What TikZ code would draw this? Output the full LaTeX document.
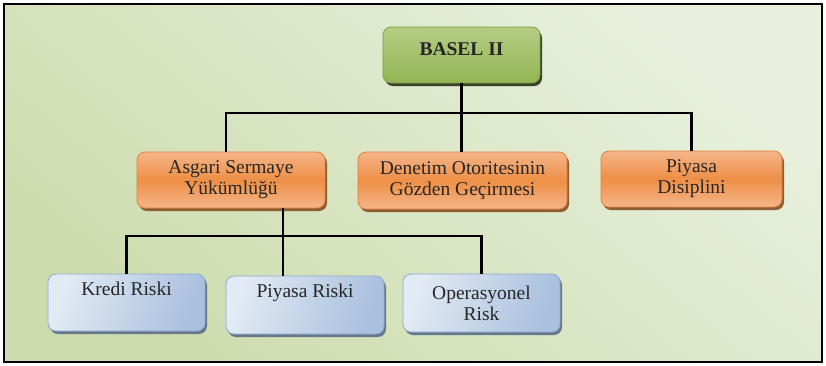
\documentclass[tikz,border=0pt]{standalone}
\usepackage{fontspec}
\setmainfont{Liberation Serif}
\usetikzlibrary{shadows}

\definecolor{bgA}{HTML}{E8F0DD}
\definecolor{bgB}{HTML}{CDDCAE}
\definecolor{yesilA}{HTML}{B4CD85}
\definecolor{yesilB}{HTML}{93B553}
\definecolor{yesilC}{HTML}{7E9C45}
\definecolor{turA}{HTML}{F5B589}
\definecolor{turB}{HTML}{EE8F45}
\definecolor{turC}{HTML}{E0823A}
\definecolor{maviA}{HTML}{E2EAF4}
\definecolor{maviB}{HTML}{A9C0DE}
\definecolor{maviC}{HTML}{8EA9CF}

\begin{document}
\begin{tikzpicture}[x=1pt, y=-1pt,
	kutu/.style = {rounded corners=8pt, align=center, inner sep=0pt,
		font=\fontsize{19.5}{21}\selectfont, text=black!85, line width=0.8pt},
	yesil/.style = {kutu, draw=yesilC, top color=yesilA, bottom color=yesilB,
		font=\fontsize{19.5}{21}\selectfont\bfseries,
		drop shadow={fill=black!70!yesilC, opacity=0.9, shadow xshift=2pt, shadow yshift=-3pt}},
	turuncu/.style = {kutu, draw=turC, top color=turA, bottom color=turA, middle color=turB,
		drop shadow={fill=black!40!turC, opacity=0.9, shadow xshift=2pt, shadow yshift=-3pt}},
	mavi/.style = {kutu, draw=maviC, left color=maviA, right color=maviB, shading angle=70,
		drop shadow={fill=black!35!maviC, opacity=0.9, shadow xshift=2pt, shadow yshift=-3pt}},
	hat/.style = {line width=2.8pt, black}]

	\useasboundingbox (0,0) rectangle (826,365);
	\draw[line width=2.5pt, top color=bgA, bottom color=bgB, shading angle=-40] (4,4) rectangle (822,362);

	\node[yesil, minimum width=157, minimum height=56, text height=14pt, text depth=14pt] (basel) at (461.5,55) {BASEL II};

	\node[turuncu, minimum width=188, minimum height=56] (asgari) at (231,180) {Asgari Sermaye\\Yükümlüğü};
	\node[turuncu, minimum width=209, minimum height=57] (denetim) at (462.5,180.5) {Denetim Otoritesinin\\Gözden Geçirmesi};
	\node[turuncu, minimum width=181, minimum height=56] (disiplin) at (691.5,179) {Piyasa\\Disiplini};

	\node[mavi, minimum width=157, minimum height=57, text height=14pt, text depth=29pt] (kredi) at (126.5,302.5) {Kredi Riski};
	\node[mavi, minimum width=158, minimum height=58, text height=14pt, text depth=29pt] (riski) at (305,305) {Piyasa Riski};
	\node[mavi, minimum width=157, minimum height=58] (operasyonel) at (481.5,303) {Operasyonel\\Risk};

	\coordinate (ust) at (226,113);
	\coordinate (alt) at (283,236);

	\begin{scope}[hat]
	\draw (basel.south) -- (basel.south |- denetim.north);
	\draw (asgari.north -| ust) -- (ust) -| (disiplin.north);
	\draw (kredi.north) |- (alt) -| (operasyonel.north);
	\draw (asgari.south -| alt) -- (riski.north -| alt);
	\end{scope}
\end{tikzpicture}
\end{document}
